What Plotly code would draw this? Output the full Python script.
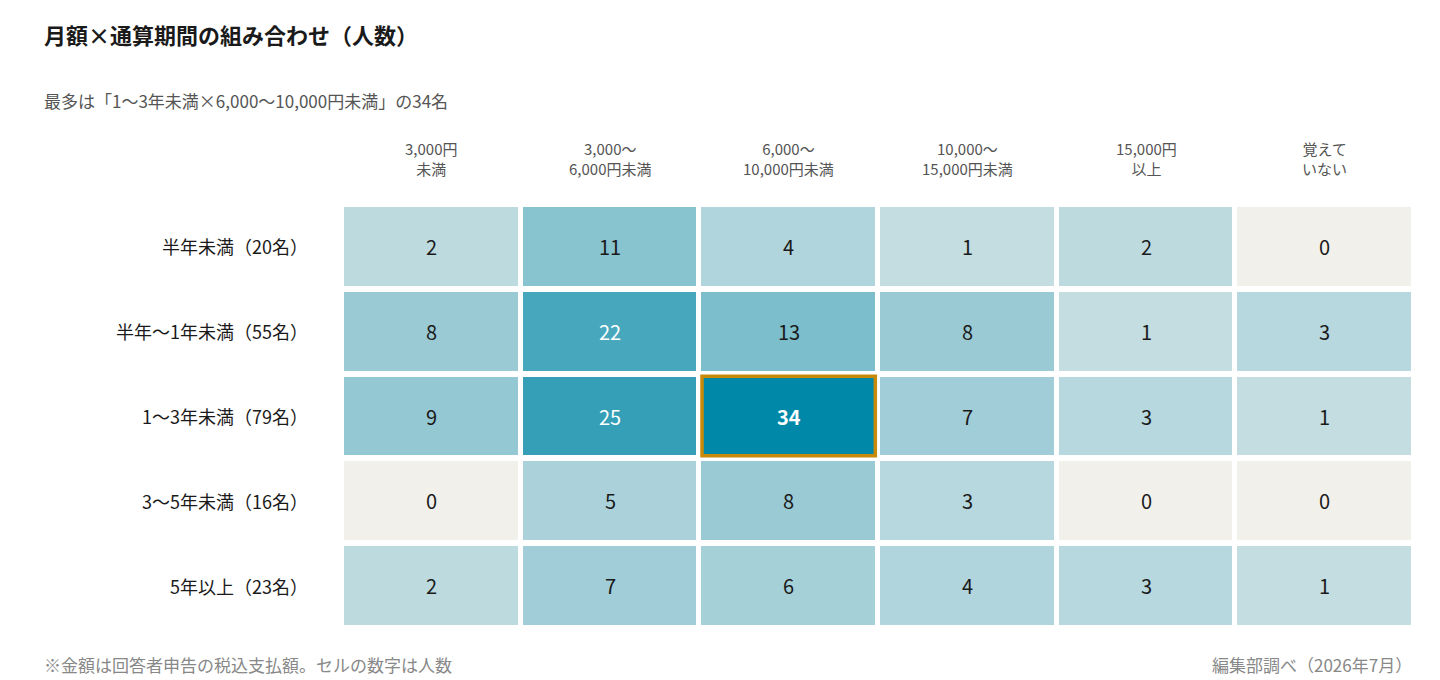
import plotly.graph_objects as go

rows = ["半年未満（20名）", "半年〜1年未満（55名）", "1〜3年未満（79名）", "3〜5年未満（16名）", "5年以上（23名）"]
cols = ["3,000円<br>未満", "3,000〜<br>6,000円未満", "6,000〜<br>10,000円未満", "10,000〜<br>15,000円未満", "15,000円<br>以上", "覚えて<br>いない"]
counts = [
    [2, 11, 4, 1, 2, 0],
    [8, 22, 13, 8, 1, 3],
    [9, 25, 34, 7, 3, 1],
    [0, 5, 8, 3, 0, 0],
    [2, 7, 6, 4, 3, 1],
]

FONT = "Noto Sans CJK JP"
zmax = max(max(r) for r in counts)
step = 0.5 / zmax
colorscale = [[0, "#f2f0eb"], [step, "#f2f0eb"], [step, "#c6dee2"], [1, "#0088a8"]]

fig = go.Figure(go.Heatmap(
    z=counts, x=list(range(len(cols))), y=list(range(len(rows))),
    zmin=0, zmax=zmax, colorscale=colorscale, showscale=False,
    xgap=5, ygap=6, hoverinfo="skip",
))

annotations = []
best = None
for i, r in enumerate(counts):
    for j, v in enumerate(r):
        is_max = v == zmax
        if is_max:
            best = (i, j)
        annotations.append(dict(
            x=j, y=i, xref="x", yref="y", showarrow=False,
            text=f"<b>{v}</b>" if is_max else str(v),
            font=dict(family=FONT, size=20, color="white" if v >= 20 else "#1a1a1a"),
        ))
for i, name in enumerate(rows):
    annotations.append(dict(x=-0.03, y=i, xref="paper", yref="y", xanchor="right",
                            showarrow=False, text=name,
                            font=dict(family=FONT, size=18, color="#1a1a1a")))
for j, name in enumerate(cols):
    annotations.append(dict(x=j, y=1.055, xref="x", yref="paper", yanchor="bottom",
                            showarrow=False, text=name,
                            font=dict(family=FONT, size=15, color="#555555")))
annotations += [
    dict(x=35, y=48, xref="pixel", yref="pixel", showarrow=False, text=""),
]
annotations = annotations[:-1]
annotations += [
    dict(x=-0.2798, y=1.40, xref="paper", yref="paper", xanchor="left", yanchor="middle",
         showarrow=False, text="<b>月額×通算期間の組み合わせ（人数）</b>",
         font=dict(family=FONT, size=22, color="#1a1a1a")),
    dict(x=-0.2798, y=1.243, xref="paper", yref="paper", xanchor="left", yanchor="middle",
         showarrow=False, text="最多は「1〜3年未満×6,000〜10,000円未満」の34名",
         font=dict(family=FONT, size=17, color="#555555")),
    dict(x=-0.2798, y=-0.085, xref="paper", yref="paper", xanchor="left", yanchor="middle",
         showarrow=False, text="※金額は回答者申告の税込支払額。セルの数字は人数",
         font=dict(family=FONT, size=17, color="#888888")),
    dict(x=1.0, y=-0.085, xref="paper", yref="paper", xanchor="right", yanchor="middle",
         showarrow=False, text="編集部調べ（2026年7月）",
         font=dict(family=FONT, size=17, color="#888888")),
]

shapes = []
if best:
    i, j = best
    shapes.append(dict(type="rect", xref="x", yref="y",
                       x0=j - 0.485, x1=j + 0.485, y0=i - 0.47, y1=i + 0.47,
                       line=dict(color="#c98a0a", width=3.5)))

fig.update_layout(
    width=1440, height=680,
    margin=dict(l=334, r=34, t=196, b=60),
    paper_bgcolor="white", plot_bgcolor="white",
    xaxis=dict(visible=False, range=[-0.5, len(cols) - 0.5]),
    yaxis=dict(visible=False, autorange="reversed"),
    annotations=annotations, shapes=shapes,
    font=dict(family=FONT),
)

fig.write_html("out.html")
